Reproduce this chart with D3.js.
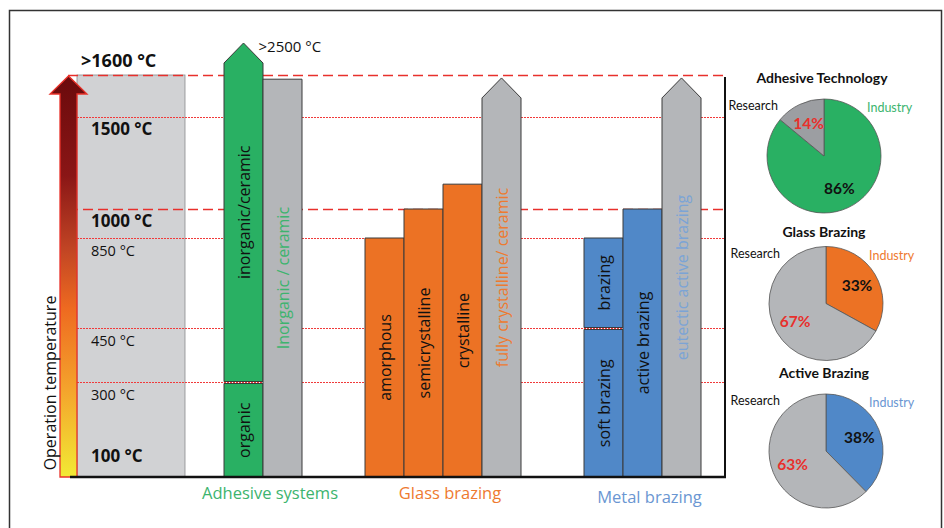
<!DOCTYPE html>
<meta charset="utf-8">
<html lang="en">
<head>
<style>
  body { margin: 0; background: #fff; }
  svg { display: block; font-family: "Open Sans", sans-serif; }
  .bar { stroke: #3a3a3a; stroke-width: 1; }
  .pie text { font-family: Lato, "Open Sans", sans-serif; }
</style>
</head>
<body>
<div id="chart"></div>
<script src="https://d3js.org/d3.v7.min.js"></script>
<script>
// temperature levels on the left
const tempValues = [1600, 1500, 1000, 850, 450, 300, 100];
const tempLabels = [">1600 °C", "1500 °C", "1000 °C", "850 °C", "450 °C", "300 °C", "100 °C"];
const majorTemps = [1600, 1500, 1000, 100];
const dashedTemps = [1600, 1000];
const dottedTemps = [1500, 850, 450, 300];

// groups of bars
const groups = ["Adhesive systems", "Glass brazing", "Metal brazing"];
const adhesiveBars = [
  { name: "organic", col: 0, from: 100, to: 300, type: "solid" },
  { name: "inorganic/ceramic", col: 0, from: 300, to: 2500, type: "solidArrow" },
  { name: "Inorganic / ceramic", col: 1, from: 100, to: 1590, type: "gray" }
];
const glassBars = [
  { name: "amorphous", col: 0, from: 100, to: 850, type: "solid" },
  { name: "semicrystalline", col: 1, from: 100, to: 1000, type: "solid" },
  { name: "crystalline", col: 2, from: 100, to: 1135, type: "solid" },
  { name: "fully crystalline/ ceramic", col: 3, from: 100, to: 1593, type: "grayArrow" }
];
const metalBars = [
  { name: "soft brazing", col: 0, from: 100, to: 450, type: "solid" },
  { name: "brazing", col: 0, from: 450, to: 850, type: "solid" },
  { name: "active brazing", col: 1, from: 100, to: 1000, type: "solid" },
  { name: "eutectic active brazing", col: 2, from: 100, to: 1593, type: "grayArrow" }
];

// pies: industry vs research share
const pieTitles = ["Adhesive Technology", "Glass Brazing", "Active Brazing"];
const industryShare = [86, 33, 38];
const researchShare = [14, 67, 63];

// colours
const groupFill = ["#29b063", "#ec7224", "#5088c8"];
const groupText = ["#3cb46e", "#ee7a30", "#6a96d2"];
const grayFill = "#b4b6b9";
const red = "#e8302c";

const W = 944, H = 528;
const svg = d3.select("#chart").append("svg")
  .attr("width", W).attr("height", H);

// outer frame
svg.append("rect")
  .attr("x", 9.5).attr("y", 10.5).attr("width", 932).attr("height", 540)
  .attr("fill", "none").attr("stroke", "#333").attr("stroke-width", 1.5);

// piecewise temperature scale (the figure is not linear)
const y = d3.scaleLinear()
  .domain([100, 300, 450, 850, 1000, 1500, 1600, 2500])
  .range([477, 382, 328, 238, 209, 117, 75, 43]);

const plotRight = 725, bottom = y(100);

// column scale: 9 columns plus two group gaps
const gapU = 63 / 39;
const x = d3.scaleLinear().domain([0, 9 + 2 * gapU]).range([224, 701]);
const groupBars = [adhesiveBars, glassBars, metalBars];
const groupStart = [];
let u = 0;
groupBars.forEach((bars, g) => {
  groupStart.push(u);
  u += d3.max(bars, d => d.col) + 1 + gapU;
});

// gray temperature panel
svg.append("rect")
  .attr("x", 77).attr("y", y(1600))
  .attr("width", 108).attr("height", bottom - y(1600))
  .attr("fill", "#d1d2d4").attr("stroke", "#8a8b8d").attr("stroke-width", 0.8);

// reference lines
svg.append("g").selectAll("line")
  .data(dashedTemps).join("line")
  .attr("x1", 68).attr("x2", plotRight)
  .attr("y1", d => Math.round(y(d)) + 0.5).attr("y2", d => Math.round(y(d)) + 0.5)
  .attr("stroke", red).attr("stroke-width", 1.5)
  .attr("stroke-dasharray", "10,5");
svg.append("g").selectAll("line")
  .data(dottedTemps).join("line")
  .attr("x1", 77).attr("x2", plotRight)
  .attr("y1", d => Math.round(y(d)) + 0.5).attr("y2", d => Math.round(y(d)) + 0.5)
  .attr("stroke", "#f03a3a").attr("stroke-width", 1)
  .attr("stroke-dasharray", "2,1");

// temperature labels
svg.append("g").selectAll("text")
  .data(tempValues).join("text")
  .attr("x", (d, i) => i === 0 ? 81 : 91)
  .attr("y", (d, i) => i === 0 ? y(d) - 8 : (d === 100 ? y(d) - 15 : y(d) + 18))
  .attr("font-size", d => majorTemps.includes(d) ? (d === 1600 ? 18 : 17) : 14.5)
  .attr("font-weight", d => majorTemps.includes(d) ? "bold" : "normal")
  .attr("fill", "#111")
  .text((d, i) => tempLabels[i]);

// gradient arrow
const grad = svg.append("defs").append("linearGradient")
  .attr("id", "heat").attr("gradientUnits", "userSpaceOnUse")
  .attr("x1", 0).attr("x2", 0).attr("y1", y(1600)).attr("y2", bottom);
[[0, "#6a0a0c"], [0.25, "#8a1616"], [0.43, "#c04424"], [0.58, "#ee6a20"], [0.78, "#f4a32c"], [1, "#f2ea34"]]
  .forEach(s => grad.append("stop").attr("offset", s[0]).attr("stop-color", s[1]));
const tipY = y(1600) + 1, shoulder = tipY + 18;
svg.append("path")
  .attr("d", `M60,${bottom} L60,${shoulder} L50,${shoulder} L68.5,${tipY} L87,${shoulder} L77,${shoulder} L77,${bottom} Z`)
  .attr("fill", "url(#heat)").attr("stroke", "#e8322a").attr("stroke-width", 1.3);

svg.append("text")
  .attr("transform", `translate(56,${383}) rotate(-90)`)
  .attr("text-anchor", "middle")
  .attr("font-size", 16).attr("fill", "#111")
  .text("Operation temperature");

// bars
const headH = 20;
function barShape(d, g) {
  const x0 = x(groupStart[g] + d.col), x1 = x(groupStart[g] + d.col + 1);
  const bars = groupBars[g];
  const stackedAbove = bars.some(o => o !== d && o.col === d.col && o.from === d.to);
  const yb = d.from > 100 ? y(d.from) - 0.5 : bottom;
  const yt = y(d.to) + (stackedAbove ? 1.5 : 0);
  if (d.type.includes("Arrow")) {
    const sh = yt + headH, xm = (x0 + x1) / 2;
    return { path: `M${x0},${yb} L${x0},${sh} L${xm},${yt} L${x1},${sh} L${x1},${yb} Z`, x0, x1, yt, yb };
  }
  return { path: `M${x0},${yb} L${x0},${yt} L${x1},${yt} L${x1},${yb} Z`, x0, x1, yt, yb };
}

groupBars.forEach((bars, g) => {
  const gg = svg.append("g");
  const shapes = bars.map(d => Object.assign({ d }, barShape(d, g)));
  gg.selectAll("path").data(shapes).join("path")
    .attr("class", "bar")
    .attr("d", s => s.path)
    .attr("fill", s => s.d.type.startsWith("gray") ? grayFill : groupFill[g]);
  gg.selectAll("text").data(shapes).join("text")
    .attr("transform", s => `translate(${(s.x0 + s.x1) / 2 + 1},${(s.yt + s.yb) / 2}) rotate(-90)`)
    .attr("text-anchor", "middle")
    .attr("dy", "0.35em")
    .attr("font-size", 16)
    .attr("fill", s => s.d.type.startsWith("gray") ? (g === 2 ? "#7ba4d6" : groupText[g]) : "#111")
    .text(s => s.d.name);

  // group label
  const nCols = d3.max(bars, d => d.col) + 1;
  svg.append("text")
    .attr("x", (x(groupStart[g]) + x(groupStart[g] + nCols)) / 2 + 7)
    .attr("y", g === 2 ? 503 : 499)
    .attr("text-anchor", "middle")
    .attr("font-size", 16.5)
    .attr("fill", groupText[g])
    .text(groups[g]);
});

// >2500 label next to the arrow tip
svg.append("text")
  .attr("x", (x(0) + x(1)) / 2 + 15).attr("y", y(2500) + 9)
  .attr("font-size", 15).attr("fill", "#111")
  .text(">2500 °C");

// axes lines
svg.append("line")
  .attr("x1", 70).attr("x2", plotRight + 1).attr("y1", bottom).attr("y2", bottom)
  .attr("stroke", "#111").attr("stroke-width", 2.5);
svg.append("line")
  .attr("x1", plotRight).attr("x2", plotRight).attr("y1", 77).attr("y2", bottom)
  .attr("stroke", "#111").attr("stroke-width", 2);

// pies
const R = 57;
const pie = d3.pie().sort(null).value(v => v);
const arc = d3.arc().innerRadius(0).outerRadius(R);
const labelArc = d3.arc().innerRadius(36).outerRadius(36);
const researchGray = ["#9c9ea2", grayFill, grayFill];
const pieCx = [824, 826, 826];

pieTitles.forEach((title, i) => {
  const cy = 156 + i * 147.5;
  const p = svg.append("g").attr("class", "pie")
    .attr("transform", `translate(${pieCx[i]},${cy})`);
  const arcs = pie([industryShare[i], researchShare[i]]);
  p.selectAll("path").data(arcs).join("path")
    .attr("d", arc)
    .attr("fill", (d, j) => j === 0 ? groupFill[i] : researchGray[i])
    .attr("stroke", "#555").attr("stroke-width", 0.8);
  p.selectAll("text.pct").data(arcs).join("text")
    .attr("class", "pct")
    .attr("transform", d => `translate(${labelArc.centroid(d)})`)
    .attr("text-anchor", "middle").attr("dy", "0.35em")
    .attr("font-size", 15.5).attr("font-weight", "bold")
    .attr("fill", (d, j) => j === 0 ? "#111" : red)
    .text(d => d.data + "%");
  p.append("text")
    .attr("x", -2).attr("y", i === 1 ? -67 : -73)
    .attr("text-anchor", "middle")
    .attr("font-size", 14).attr("font-weight", "bold").attr("fill", "#111")
    .text(title);
  p.append("text")
    .attr("x", -46).attr("y", -46)
    .attr("text-anchor", "end")
    .attr("font-size", 12.5).attr("fill", "#111")
    .text("Research");
  p.append("text")
    .attr("x", 43).attr("y", -44)
    .attr("font-size", 12.5).attr("fill", groupText[i])
    .text("Industry");
});
</script>
</body>
</html>
